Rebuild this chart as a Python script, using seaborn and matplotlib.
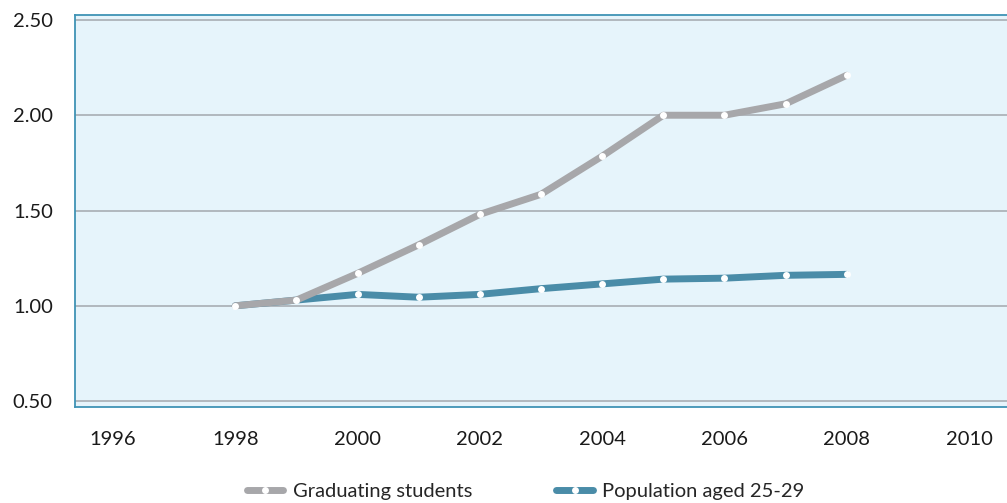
import matplotlib
matplotlib.use("Agg")
import matplotlib.pyplot as plt
import seaborn as sns
import pandas as pd

# ---------------------------------------------------------------------------
# Data (index, 1998 = 1.00)
# ---------------------------------------------------------------------------
years = [1998, 1999, 2000, 2001, 2002, 2003, 2004, 2005, 2006, 2007, 2008]
graduating = [1.00, 1.03, 1.17, 1.32, 1.48, 1.585, 1.785, 2.00, 2.00, 2.06, 2.21]
population = [1.00, 1.03, 1.06, 1.045, 1.06, 1.09, 1.115, 1.14, 1.145, 1.16, 1.165]
series_names = ["Graduating students", "Population aged 25-29"]
x_ticks = [1996, 1998, 2000, 2002, 2004, 2006, 2008, 2010]
y_ticks = [0.5, 1.0, 1.5, 2.0, 2.5]

df = pd.DataFrame({
    "year": years * 2,
    "value": graduating + population,
    "series": [series_names[0]] * len(years) + [series_names[1]] * len(years),
})

sns.set_style("white")
plt.rcParams["font.family"] = ["Lato", "DejaVu Sans"]

colors = {series_names[0]: "#a7a7aa", series_names[1]: "#4a8ca8"}
spine_col = "#3f93b5"

fig = plt.figure(figsize=(10.07, 5.03), dpi=100)
ax = fig.add_axes([75 / 1007, 1 - 407 / 503, 1 - 75 / 1007, (407 - 15) / 503])
ax.set_facecolor("#e6f4fb")

for i, name in enumerate(series_names[::-1]):
    sub = df[df["series"] == name]
    sns.lineplot(data=sub, x="year", y="value", ax=ax, color=colors[name],
                 linewidth=5, marker="o", markersize=5,
                 markerfacecolor="white", markeredgecolor="white",
                 markeredgewidth=0, solid_capstyle="round", solid_joinstyle="round",
                 label=name, zorder=3 + i)

ax.set_xlim(1995.38, 2010.62)
ax.set_ylim(0.469, 2.526)
ax.set_xticks(x_ticks)
ax.set_yticks(y_ticks)
ax.set_yticklabels([f"{v:.2f}" for v in y_ticks])
ax.set_xlabel("")
ax.set_ylabel("")
ax.tick_params(axis="both", length=0, labelsize=14.5, colors="#1a1a1a")
ax.tick_params(axis="x", pad=17)
ax.tick_params(axis="y", pad=16)
for v in y_ticks:
    ax.axhline(v, color="#a3a8ad", linewidth=1.1, zorder=1)

for side in ["left", "top", "bottom"]:
    ax.spines[side].set_color(spine_col)
    ax.spines[side].set_linewidth(1.3)
ax.spines["right"].set_visible(False)

handles, labels = ax.get_legend_handles_labels()
order = [labels.index(n) for n in series_names]
leg = ax.legend([handles[i] for i in order], [labels[i] for i in order],
                loc="center", bbox_to_anchor=(0.4835, -0.215),
                ncol=2, frameon=False, fontsize=14.5, handlelength=1.8,
                columnspacing=4.2, handletextpad=0.45, numpoints=1)

fig.savefig("out.png", dpi=100)
